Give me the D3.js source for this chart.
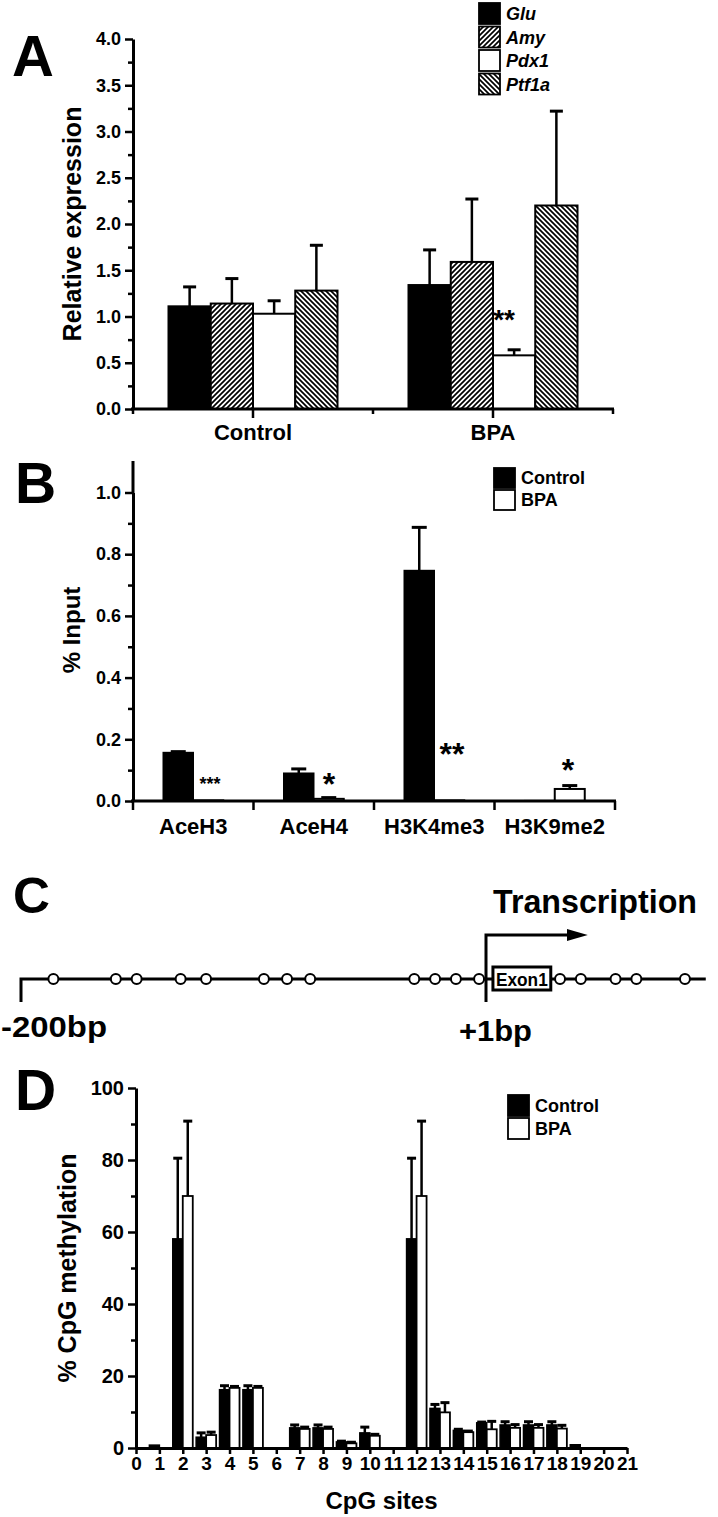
<!DOCTYPE html>
<html><head><meta charset="utf-8">
<script src="https://cdn.jsdelivr.net/npm/d3@7"></script>
<style>
body{margin:0;background:#fff}
svg{display:block}
text{font-family:"Liberation Sans",Arial,Helvetica,sans-serif;font-weight:bold;fill:#000}
</style>
</head><body>
<svg id="fig" width="718" height="1517"></svg>
<script>
// ---------- Panel A data ----------
const genesA = ["Glu","Amy","Pdx1","Ptf1a"];
const groupsA = ["Control","BPA"];
const meanA_Control = [1.11, 1.14, 1.03, 1.28];
const errA_Control  = [0.21, 0.27, 0.14, 0.49];
const meanA_BPA     = [1.34, 1.59, 0.58, 2.20];
const errA_BPA      = [0.38, 0.68, 0.06, 1.02];
const starsA_BPA    = ["", "", "**", ""];
const ticksA = [0,0.5,1.0,1.5,2.0,2.5,3.0,3.5,4.0];

// ---------- Panel B data ----------
const marksB = ["AceH3","AceH4","H3K4me3","H3K9me2"];
const seriesB = ["Control","BPA"];
const meanB_Control = [0.157, 0.090, 0.747, 0.001];
const errB_Control  = [0.003, 0.014, 0.140, 0.000];
const meanB_BPA     = [0.002, 0.007, 0.002, 0.039];
const errB_BPA      = [0.000, 0.004, 0.000, 0.011];
const starsB        = ["***","*","**","*"];
const ticksB = [0,0.2,0.4,0.6,0.8,1.0];

// ---------- Panel C data (bp positions) ----------
const cpgBp = [-186,-159,-150,-131,-120,-95,-85,-75,-30,-21,-12,-2,33,42,57,66,87];
const exonBp = [4, 29];

// ---------- Panel D data ----------
const sitesD = [1,2,3,4,5,6,7,8,9,10,11,12,13,14,15,16,17,18,19];
const meanD_Control = [0.8,58.1,3.0,16.2,16.2,0,5.6,5.6,1.7,4.2,0,58.1,11.0,4.9,7.0,6.4,6.4,6.4,0.9];
const errD_Control  = [0,22.4,1.2,1.1,1.1,0,0.8,0.8,0.2,1.6,0,22.4,1.1,0.3,0.2,0.9,0.9,0.9,0];
const meanD_BPA     = [0,70.0,3.6,16.7,16.7,0,5.3,5.3,1.3,3.4,0,70.0,9.9,4.4,5.2,5.6,5.6,5.4,0];
const errD_BPA      = [0,20.8,0.8,0.4,0.4,0,0.5,0.5,0.3,0.4,0,20.8,2.7,0.3,2.2,0.9,0.9,0.9,0];
const ticksD_x = d3.range(0,22);
const ticksD_y = [0,20,40,60,80,100];

const svg = d3.select("#fig");
const defs = svg.append("defs");
function hatch(id, dir){
  const p = defs.append("pattern").attr("id",id).attr("patternUnits","userSpaceOnUse")
    .attr("width",5).attr("height",5);
  p.append("rect").attr("width",5).attr("height",5).attr("fill","#fff");
  const d = dir>0 ? "M-1,1 L1,-1 M0,5 L5,0 M4,6 L6,4" : "M-1,4 L1,6 M0,0 L5,5 M4,-1 L6,1";
  p.append("path").attr("d",d).attr("stroke","#000").attr("stroke-width",1.7);
}
hatch("hUp",1); hatch("hDown",-1);
const fillA = {Glu:"#000", Amy:"url(#hUp)", Pdx1:"#fff", Ptf1a:"url(#hDown)"};

function yAxis(scale, x, majors, minors, fmt, fs, majLen, minLen){
  const g = svg.append("g").attr("transform",`translate(${x},0)`);
  g.append("g").call(d3.axisLeft(scale).tickValues(minors).tickSize(minLen).tickSizeOuter(0).tickFormat(""))
    .call(s=>{s.select(".domain").remove(); s.selectAll("line").attr("stroke","#000").attr("stroke-width",2.5);});
  g.append("g").call(d3.axisLeft(scale).tickValues(majors).tickSize(majLen).tickSizeOuter(0).tickFormat(fmt).tickPadding(4))
    .call(s=>{s.select(".domain").attr("stroke","#000").attr("stroke-width",3);
      s.selectAll("line").attr("stroke","#000").attr("stroke-width",2.5);
      s.selectAll("text").attr("font-size",fs).attr("font-family",null).style("font-weight","bold");});
  return g;
}
function errBar(x, y0, y1, cap, sw){
  svg.append("line").attr("x1",x).attr("x2",x).attr("y1",y0).attr("y2",y1).attr("stroke","#000").attr("stroke-width",sw);
  svg.append("line").attr("x1",x-cap/2).attr("x2",x+cap/2).attr("y1",y1).attr("y2",y1).attr("stroke","#000").attr("stroke-width",sw+0.5);
}
function letter(t,x,y,fs){ svg.append("text").attr("x",x).attr("y",y).attr("font-size",fs).text(t); }
function star(t,x,cy,fs){ svg.append("text").attr("x",x).attr("y",cy+0.57*fs).attr("text-anchor","middle").attr("font-size",fs).text(t); }

// ================= Panel A =================
{
  const y = d3.scaleLinear().domain([0,4]).range([409,39]);
  const x = d3.scaleBand().domain(groupsA).range([133,613]);
  const inner = d3.scaleBand().domain(genesA).range([0,169]);
  const data = {Control:[meanA_Control,errA_Control], BPA:[meanA_BPA,errA_BPA]};
  groupsA.forEach(gName=>{
    const x0 = x(gName)+x.bandwidth()/2-84.5;
    genesA.forEach((gene,i)=>{
      const m = data[gName][0][i], e = data[gName][1][i];
      const bx = x0+inner(gene), bw = inner.bandwidth();
      errBar(bx+bw/2, y(m), y(m+e), 13, 2.5);
      svg.append("rect").attr("x",bx).attr("y",y(m)).attr("width",bw).attr("height",y(0)-y(m))
        .attr("fill",fillA[gene]).attr("stroke","#000").attr("stroke-width",2);
      if(gName==="BPA" && starsA_BPA[i]) star(starsA_BPA[i], bx+bw/2-10, 313, 28);
    });
  });
  yAxis(y,133,ticksA,d3.range(0.25,4,0.5),d3.format(".1f"),18,8,5);
  svg.append("line").attr("x1",131).attr("x2",614).attr("y1",409).attr("y2",409).attr("stroke","#000").attr("stroke-width",3);
  groupsA.forEach(gName=>{
    const cx = x(gName)+x.bandwidth()/2;
    svg.append("line").attr("x1",cx).attr("x2",cx).attr("y1",409).attr("y2",418).attr("stroke","#000").attr("stroke-width",2.5);
    svg.append("text").attr("x",cx).attr("y",440).attr("text-anchor","middle").attr("font-size",22).text(gName);
  });
  [x.range()[0], x(groupsA[1]), x.range()[1]].forEach(v=>{
    svg.append("line").attr("x1",v).attr("x2",v).attr("y1",409).attr("y2",414).attr("stroke","#000").attr("stroke-width",2.5);
  });
  svg.append("text").attr("transform","translate(81,224) rotate(-90)").attr("text-anchor","middle").attr("font-size",25).text("Relative expression");
  letter("A",12,76,58);
  genesA.forEach((gene,i)=>{
    const ly = 3+i*23.5;
    svg.append("rect").attr("x",479).attr("y",ly).attr("width",21).attr("height",21)
      .attr("fill",fillA[gene]).attr("stroke","#000").attr("stroke-width",1.8);
    svg.append("text").attr("x",506).attr("y",ly+17).attr("font-size",18).attr("font-style","italic").text(gene);
  });
}

// ================= Panel B =================
{
  const y = d3.scaleLinear().domain([0,1]).range([801,492.5]);
  const x = d3.scaleBand().domain(marksB).range([133,615]);
  const bw = 30;
  marksB.forEach((mk,i)=>{
    const cx = x(mk)+x.bandwidth()/2;
    if(errB_Control[i]>0) errBar(cx-bw/2, y(meanB_Control[i]), y(meanB_Control[i]+errB_Control[i]), 15, 2.5);
    svg.append("rect").attr("x",cx-bw).attr("y",y(meanB_Control[i])).attr("width",bw).attr("height",y(0)-y(meanB_Control[i]))
      .attr("fill","#000").attr("stroke","#000").attr("stroke-width",1.5);
    if(errB_BPA[i]>0) errBar(cx+bw/2, y(meanB_BPA[i]), y(meanB_BPA[i]+errB_BPA[i]), 15, 2.5);
    svg.append("rect").attr("x",cx).attr("y",y(meanB_BPA[i])).attr("width",bw).attr("height",y(0)-y(meanB_BPA[i]))
      .attr("fill","#fff").attr("stroke","#000").attr("stroke-width",2);
  });
  star(starsB[0], 210, 780, 18);
  star(starsB[1], 329, 777, 32);
  star(starsB[2], 452, 747, 32);
  star(starsB[3], 568, 763, 32);
  yAxis(y,133,ticksB,d3.range(0.1,1.1,0.2),d3.format(".1f"),18,8,5);
  svg.append("line").attr("x1",133).attr("x2",133).attr("y1",461).attr("y2",493).attr("stroke","#000").attr("stroke-width",3);
  svg.append("line").attr("x1",131).attr("x2",616).attr("y1",801).attr("y2",801).attr("stroke","#000").attr("stroke-width",3);
  x.domain().forEach(mk=>{
    const cx = x(mk)+x.bandwidth()/2;
    svg.append("text").attr("x",cx).attr("y",834).attr("text-anchor","middle").attr("font-size",22).text(mk);
  });
  marksB.concat(["end"]).forEach((mk,i)=>{
    const v = 133 + i*x.bandwidth();
    svg.append("line").attr("x1",v).attr("x2",v).attr("y1",801).attr("y2",810).attr("stroke","#000").attr("stroke-width",2.5);
  });
  svg.append("text").attr("transform","translate(80,630) rotate(-90)").attr("text-anchor","middle").attr("font-size",24).text("% Input");
  letter("B",15,503,57);
  seriesB.forEach((s,i)=>{
    const ly = 468+i*22;
    svg.append("rect").attr("x",494).attr("y",ly).attr("width",21).attr("height",20)
      .attr("fill",i===0?"#000":"#fff").attr("stroke","#000").attr("stroke-width",1.8);
    svg.append("text").attr("x",521).attr("y",ly+16).attr("font-size",18).text(s);
  });
}

// ================= Panel C =================
{
  const x = d3.scaleLinear().domain([-200,1]).range([21,486]);
  const ly = 979;
  svg.append("text").attr("x",13).attr("y",913).attr("font-size",50).attr("textLength",37).attr("lengthAdjust","spacingAndGlyphs").text("C");
  svg.append("text").attr("x",493).attr("y",913).attr("font-size",34).attr("textLength",204).attr("lengthAdjust","spacingAndGlyphs").text("Transcription");
  svg.append("path").attr("d",`M${x(-200)},${ly+23} V${ly} H${x(96)}`).attr("fill","none").attr("stroke","#000").attr("stroke-width",3);
  svg.append("path").attr("d",`M${x(1)},${ly+23} V${ly-44} H${x(37)}`).attr("fill","none").attr("stroke","#000").attr("stroke-width",3);
  svg.append("path").attr("d",`M${x(36)},${ly-50} L${x(45)},${ly-44} L${x(36)},${ly-38} Z`).attr("fill","#000");
  svg.append("rect").attr("x",x(exonBp[0])).attr("y",ly-12).attr("width",x(exonBp[1])-x(exonBp[0])).attr("height",23)
    .attr("fill","#fff").attr("stroke","#000").attr("stroke-width",3);
  svg.append("text").attr("x",x(exonBp[0])+3).attr("y",ly+7).attr("font-size",18)
    .attr("textLength",x(exonBp[1])-x(exonBp[0])-6).attr("lengthAdjust","spacingAndGlyphs").text("Exon1");
  cpgBp.forEach(b=>{
    svg.append("circle").attr("cx",x(b)).attr("cy",ly).attr("r",5).attr("fill","#fff").attr("stroke","#000").attr("stroke-width",2);
  });
  svg.append("text").attr("x",1).attr("y",1037).attr("font-size",30).attr("textLength",106).attr("lengthAdjust","spacingAndGlyphs").text("-200bp");
  svg.append("text").attr("x",459).attr("y",1041).attr("font-size",30).attr("textLength",73).attr("lengthAdjust","spacingAndGlyphs").text("+1bp");
}

// ================= Panel D =================
{
  const y = d3.scaleLinear().domain([0,100]).range([1448,1088]);
  const x = d3.scaleLinear().domain([0,21]).range([136,627]);
  const bw = 10;
  sitesD.forEach((s,i)=>{
    const cx = x(s);
    const mc = meanD_Control[i], mb = meanD_BPA[i];
    if(mc>0){
      if(errD_Control[i]>0) errBar(cx-bw/2, y(mc), y(mc+errD_Control[i]), 9, 2.5);
      svg.append("rect").attr("x",cx-bw).attr("y",y(mc)).attr("width",bw).attr("height",y(0)-y(mc))
        .attr("fill","#000").attr("stroke","#000").attr("stroke-width",1.5);
    }
    if(mb>0){
      if(errD_BPA[i]>0) errBar(cx+bw/2, y(mb), y(mb+errD_BPA[i]), 9, 2.5);
      svg.append("rect").attr("x",cx).attr("y",y(mb)).attr("width",bw).attr("height",y(0)-y(mb))
        .attr("fill","#fff").attr("stroke","#000").attr("stroke-width",1.8);
    }
  });
  yAxis(y,136,ticksD_y,d3.range(10,100,20),d3.format("d"),20,8,5);
  svg.append("g").attr("transform","translate(0,1448)")
    .call(d3.axisBottom(x).tickValues(ticksD_x).tickSize(6).tickSizeOuter(0).tickFormat(d3.format("d")).tickPadding(3))
    .call(s=>{s.select(".domain").attr("stroke","#000").attr("stroke-width",3);
      s.selectAll("line").attr("stroke","#000").attr("stroke-width",2.5);
      s.selectAll("text").attr("font-size",19).attr("font-family",null).style("font-weight","bold");});
  svg.append("text").attr("x",(x(0)+x(21))/2).attr("y",1509).attr("text-anchor","middle").attr("font-size",24).text("CpG sites");
  svg.append("text").attr("transform","translate(76,1268) rotate(-90)").attr("text-anchor","middle").attr("font-size",25).text("% CpG methylation");
  letter("D",15,1110,57);
  seriesB.forEach((s,i)=>{
    const ly = 1095+i*23;
    svg.append("rect").attr("x",508).attr("y",ly).attr("width",21).attr("height",21)
      .attr("fill",i===0?"#000":"#fff").attr("stroke","#000").attr("stroke-width",1.8);
    svg.append("text").attr("x",535).attr("y",ly+17).attr("font-size",18).text(s);
  });
}
</script>
</body></html>
